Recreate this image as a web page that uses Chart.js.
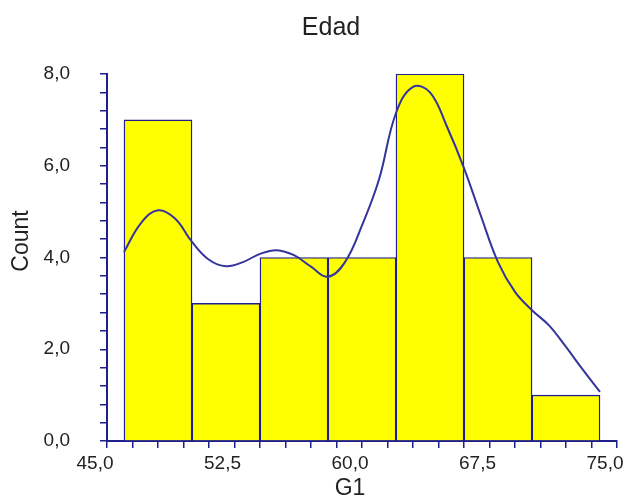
<!DOCTYPE html>
<html>
<head>
<meta charset="utf-8">
<title>Edad</title>
<script src="https://cdn.jsdelivr.net/npm/chart.js@4.4.1/dist/chart.umd.min.js"></script>
<style>
  html, body { margin: 0; padding: 0; background: #fff; }
  #wrap { width: 624px; height: 498px; }
</style>
</head>
<body>
<div id="wrap"><canvas id="histChart" width="624" height="498"></canvas></div>
<script>
// Histogram of Edad: bins 4 wide, from 46 to 74
const binMids = [48, 52, 56, 60, 64, 68, 72];
const binCounts = [7, 3, 4, 4, 8, 4, 1];

// smoothed density, scaled to counts
const curveX = [46, 47, 48, 49, 50, 51, 52, 53, 54, 55, 56, 57, 58, 59, 60,
                61, 62, 63, 64, 65, 66, 67, 68, 69, 70, 71, 72, 73, 74];
const curveY = [4.12, 4.75, 5.03, 4.85, 4.34, 3.95, 3.81, 3.90, 4.08, 4.16, 4.05, 3.80, 3.58, 3.90, 4.70,
                5.70, 7.15, 7.72, 7.60, 6.85, 5.95, 4.90, 3.90, 3.25, 2.85, 2.52, 2.05, 1.55, 1.07];

const xMajorTicks = [45, 52.5, 60, 67.5, 75];
const yMajorTicks = [0, 2, 4, 6, 8];

const axisColor = '#1e1e8c';
const textColor = '#222';
const fontFamily = 'Arial, "Liberation Sans", sans-serif';

function isMajor(list, v) {
    return list.some(t => Math.abs(t - v) < 1e-6);
}
function fmt(v) {
    return v.toFixed(1).replace('.', ',');
}

// titles are placed by hand, they are not centred on the plot
const titlesPlugin = {
    id: 'titles',
    afterDraw(chart) {
        const ctx = chart.ctx;
        ctx.save();
        ctx.fillStyle = textColor;
        ctx.textAlign = 'center';
        ctx.textBaseline = 'alphabetic';

        ctx.font = `25px ${fontFamily}`;
        ctx.fillText('Edad', 331, 35);

        ctx.font = `23px ${fontFamily}`;
        ctx.fillText('G1', 350, 495);

        ctx.translate(28, 241);
        ctx.rotate(-Math.PI / 2);
        ctx.fillText('Count', 0, 0);
        ctx.restore();
    }
};

const ctx = document.getElementById('histChart').getContext('2d');
new Chart(ctx, {
    type: 'bar',
    data: {
        datasets: [
            {
                type: 'line',
                data: curveX.map((x, i) => ({ x: x, y: curveY[i] })),
                borderColor: '#34349c',
                borderWidth: 2,
                pointRadius: 0,
                fill: false,
                tension: 0.4,
                order: 0
            },
            {
                type: 'bar',
                data: binMids.map((x, i) => ({ x: x, y: binCounts[i] })),
                backgroundColor: '#ffff00',
                borderColor: axisColor,
                borderWidth: 1.4,
                // flex: width follows the spacing of the bin centres
                barThickness: 'flex',
                barPercentage: 1,
                categoryPercentage: 1,
                order: 1
            }
        ]
    },
    options: {
        responsive: false,
        animation: false,
        devicePixelRatio: 1,
        layout: { padding: { top: 74, right: 7, left: 0, bottom: 0 } },
        plugins: {
            legend: { display: false },
            tooltip: { enabled: false },
            title: { display: false }
        },
        scales: {
            x: {
                type: 'linear',
                min: 45,
                max: 75,
                offset: false,
                grid: {
                    offset: false,
                    drawOnChartArea: false,
                    drawTicks: true,
                    tickLength: 7,
                    color: axisColor,
                    lineWidth: 1.5
                },
                border: { display: true, color: axisColor, width: 2 },
                ticks: {
                    stepSize: 1.5,
                    autoSkip: false,
                    maxRotation: 0,
                    labelOffset: -12,
                    padding: 4,
                    color: textColor,
                    font: { size: 19, family: fontFamily },
                    callback: v => isMajor(xMajorTicks, v) ? fmt(v) : ''
                },
                afterFit: s => {
                    s.height = 57;
                    s.paddingLeft = 0;
                    s.paddingRight = 0;
                }
            },
            y: {
                min: 0,
                max: 8,
                grid: {
                    drawOnChartArea: false,
                    drawTicks: true,
                    tickLength: 7,
                    color: axisColor,
                    lineWidth: 1.5
                },
                border: { display: true, color: axisColor, width: 2 },
                ticks: {
                    stepSize: 0.4,
                    autoSkip: false,
                    padding: 30,
                    color: textColor,
                    font: { size: 19, family: fontFamily },
                    callback: v => isMajor(yMajorTicks, v) ? fmt(v) : ''
                },
                afterFit: s => {
                    s.width = 107;
                    s.paddingTop = 0;
                    s.paddingBottom = 0;
                }
            }
        }
    },
    plugins: [titlesPlugin]
});
</script>
</body>
</html>
